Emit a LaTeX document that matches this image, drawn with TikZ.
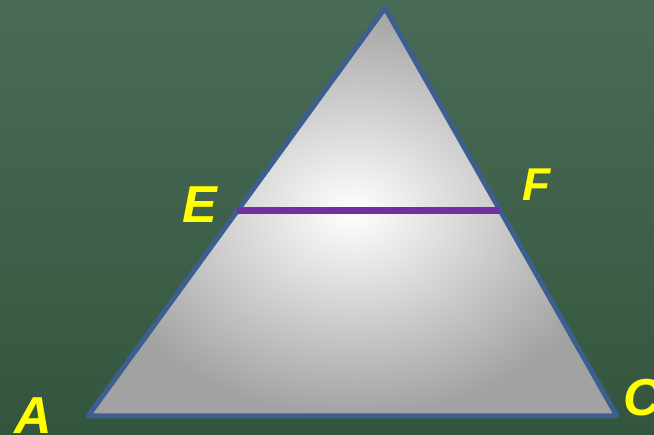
\documentclass[tikz,border=0pt]{standalone}
\usepackage{fontspec}
\setsansfont{Liberation Sans}
\usetikzlibrary{positioning,calc}
\definecolor{board}{HTML}{4A6B56}
\definecolor{boarddark}{HTML}{34553D}
\definecolor{edge}{HTML}{3D5F8F}
\definecolor{midline}{HTML}{7030A0}
\definecolor{lbl}{HTML}{FFFF00}
\definecolor{shadeout}{HTML}{A2A2A2}
\begin{document}
\begin{tikzpicture}[x=1pt,y=-1pt,
  vlabel/.style={anchor=base,text=lbl,inner sep=0pt,font=\sffamily\bfseries\itshape\fontsize{52}{52}\selectfont}]
\useasboundingbox (0,0) rectangle (654,435);
\shade[top color=board,bottom color=boarddark] (0,0) rectangle (654,435);
\coordinate (top) at (385,8);
\coordinate (a) at (88,416);
\coordinate (c) at (617,416);
\coordinate (e) at ($(top)!0.4975!(a)$);
\coordinate (f) at ($(top)!0.4975!(c)$);
\shade[inner color=white,outer color=shadeout] (top)--(a)--(c)--cycle;
\draw[edge,line width=5pt,line join=round] (top)--(a)--(c)--cycle;
\draw[midline,line width=7pt] (e)--(f);
\foreach \x/\y/\t/\s/\id in {33/434/A/52/A,200/223/E/52/E,537/201/F/46/F,642/416/C/52/C}
{
  \node[vlabel,font=\sffamily\bfseries\itshape\fontsize{\s}{\s}\selectfont] (l\id) at (\x,\y) {\t};
}
\end{tikzpicture}
\end{document}
